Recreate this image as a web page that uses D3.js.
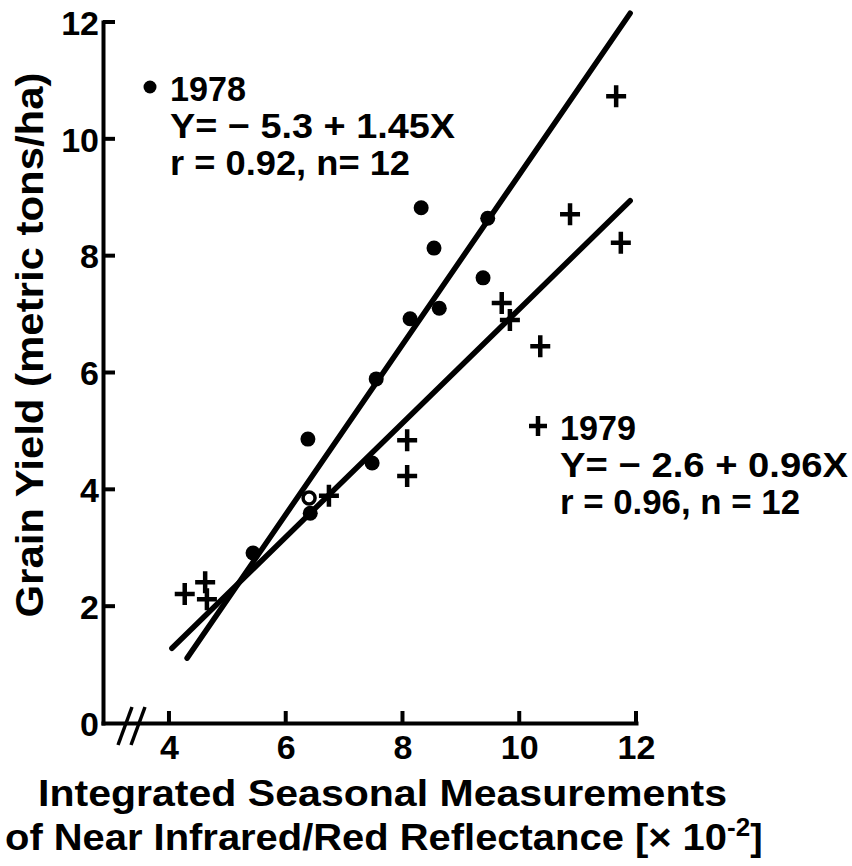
<!DOCTYPE html>
<html>
<head>
<meta charset="utf-8">
<script src="https://d3js.org/d3.v7.min.js"></script>
<style>
    body { margin: 0; background: #fff; }
    svg { font-family: "Liberation Sans", Arial, sans-serif; font-weight: bold; }
    .axis text { font-size: 34px; font-weight: bold; fill: #000; }
</style>
</head>
<body>
<script>
//chart values
var xTicks = [4, 6, 8, 10, 12],
    yTicks = [0, 2, 4, 6, 8, 10, 12];

//1978 plots (filled dots), one drawn hollow
var dots1978 = [[6.38, 4.86], [6.42, 3.59], [5.44, 2.91], [7.55, 5.89], [7.48, 4.45],
    [8.13, 6.92], [8.32, 8.82], [8.54, 8.13], [8.63, 7.10], [9.38, 7.62], [9.46, 8.64]];
var hollow1978 = [[6.40, 3.85]];

//1979 plots (crosses)
var crosses1979 = [[4.27, 2.21], [4.62, 2.41], [4.65, 2.12], [6.74, 3.89], [8.08, 4.84],
    [8.08, 4.23], [11.66, 10.73], [10.87, 8.71], [11.74, 8.22], [9.70, 7.19],
    [9.84, 6.90], [10.36, 6.45]];

//regression lines, as drawn
var fit1978 = [[4.31, 1.11], [11.90, 12.15]],
    fit1979 = [[4.05, 1.28], [11.90, 8.94]];

var text1978 = ["1978", "Y= \u2212 5.3 + 1.45X", "r = 0.92,  n= 12"],
    text1979 = ["1979", "Y= \u2212 2.6 + 0.96X", "r = 0.96,  n = 12"];

window.onload = drawChart();

function drawChart(){

    var width = 852,
        height = 866;

    var svg = d3.select("body")
        .append("svg")
        .attr("width", width)
        .attr("height", height);

    //scales (x axis starts a little left of 4, behind the break)
    var x = d3.scaleLinear().domain([2.87, 12]).range([103, 636]);
    var y = d3.scaleLinear().domain([0, 12]).range([723, 22]);

    //axes; tick marks drawn separately below
    var xAxis = svg.append("g")
        .attr("class", "axis")
        .attr("transform", "translate(0," + y(0) + ")")
        .call(d3.axisBottom(x).tickValues(xTicks).tickSize(0).tickPadding(12));
    xAxis.selectAll("text").attr("dy", "0.71em");

    var yAxis = svg.append("g")
        .attr("class", "axis")
        .attr("transform", "translate(" + x(2.87) + ",0)")
        .call(d3.axisLeft(y).tickValues(yTicks).tickSize(0).tickPadding(4));
    yAxis.selectAll("text").attr("dy", "0.36em");

    svg.selectAll(".axis .domain")
        .attr("stroke", "#000")
        .attr("stroke-width", 4)
        .attr("stroke-linecap", "square");

    //inward tick marks
    svg.selectAll(".xtick")
        .data(xTicks)
        .enter()
        .append("line")
        .attr("class", "xtick")
        .attr("x1", function(d){ return x(d); })
        .attr("x2", function(d){ return x(d); })
        .attr("y1", y(0))
        .attr("y2", y(0) - 12)
        .attr("stroke", "#000")
        .attr("stroke-width", 4);

    svg.selectAll(".ytick")
        .data(yTicks.filter(function(d){ return d > 0; }))
        .enter()
        .append("line")
        .attr("class", "ytick")
        .attr("x1", x(2.87))
        .attr("x2", x(2.87) + 12)
        .attr("y1", function(d){ return y(d); })
        .attr("y2", function(d){ return y(d); })
        .attr("stroke", "#000")
        .attr("stroke-width", 4);

    //axis break marks
    [0, 13].forEach(function(dx){
        svg.append("line")
            .attr("x1", 118 + dx).attr("y1", 745)
            .attr("x2", 132 + dx).attr("y2", 707)
            .attr("stroke", "#000")
            .attr("stroke-width", 3.5);
    });

    //regression lines
    var line = d3.line()
        .x(function(d){ return x(d[0]); })
        .y(function(d){ return y(d[1]); });

    [fit1978, fit1979].forEach(function(f){
        svg.append("path")
            .datum(f)
            .attr("d", line)
            .attr("fill", "none")
            .attr("stroke", "#000")
            .attr("stroke-width", 5.5)
            .attr("stroke-linecap", "round");
    });

    //1978 dots
    svg.selectAll(".dot")
        .data(dots1978)
        .enter()
        .append("circle")
        .attr("class", "dot")
        .attr("cx", function(d){ return x(d[0]); })
        .attr("cy", function(d){ return y(d[1]); })
        .attr("r", 7.5)
        .attr("fill", "#000");

    svg.selectAll(".hollow")
        .data(hollow1978)
        .enter()
        .append("circle")
        .attr("class", "hollow")
        .attr("cx", function(d){ return x(d[0]); })
        .attr("cy", function(d){ return y(d[1]); })
        .attr("r", 6)
        .attr("fill", "#fff")
        .attr("stroke", "#000")
        .attr("stroke-width", 3.5);

    //1979 crosses
    var cross = "M-10,0H10M0,-11V11";
    svg.selectAll(".cross")
        .data(crosses1979)
        .enter()
        .append("path")
        .attr("class", "cross")
        .attr("transform", function(d){ return "translate(" + x(d[0]) + "," + y(d[1]) + ")"; })
        .attr("d", cross)
        .attr("stroke", "#000")
        .attr("stroke-width", 4.5);

    //annotations
    svg.append("circle")
        .attr("cx", 150).attr("cy", 87).attr("r", 6.5).attr("fill", "#000");
    svg.append("path")
        .attr("transform", "translate(538,426)")
        .attr("d", "M-9,0H9M0,-10V10")
        .attr("stroke", "#000")
        .attr("stroke-width", 4.5);

    function block(lines, left, top, widths){
        lines.forEach(function(t, i){
            svg.append("text")
                .attr("x", left)
                .attr("y", top + i * 37)
                .attr("font-size", 35)
                .attr("textLength", widths[i])
                .attr("lengthAdjust", "spacingAndGlyphs")
                .text(t);
        });
    }
    block(text1978, 170, 101, [76, 285, 240]);
    block(text1979, 560, 440, [76, 288, 240]);

    //axis titles
    svg.append("text")
        .attr("transform", "translate(43,345) rotate(-90)")
        .attr("text-anchor", "middle")
        .attr("font-size", 38)
        .attr("textLength", 545)
        .attr("lengthAdjust", "spacingAndGlyphs")
        .text("Grain Yield (metric tons/ha)");

    svg.append("text")
        .attr("x", 38)
        .attr("y", 806)
        .attr("font-size", 37)
        .attr("textLength", 689)
        .attr("lengthAdjust", "spacingAndGlyphs")
        .text("Integrated Seasonal Measurements");

    var t2 = svg.append("text")
        .attr("x", 5)
        .attr("y", 850)
        .attr("font-size", 37);
    t2.append("tspan")
        .attr("textLength", 722)
        .attr("lengthAdjust", "spacingAndGlyphs")
        .text("of Near Infrared/Red Reflectance [\u00d7 10");
    t2.append("tspan")
        .attr("dy", -14)
        .attr("font-size", 26)
        .text("-2");
    t2.append("tspan")
        .attr("dy", 14)
        .text("]");
}
</script>
</body>
</html>
